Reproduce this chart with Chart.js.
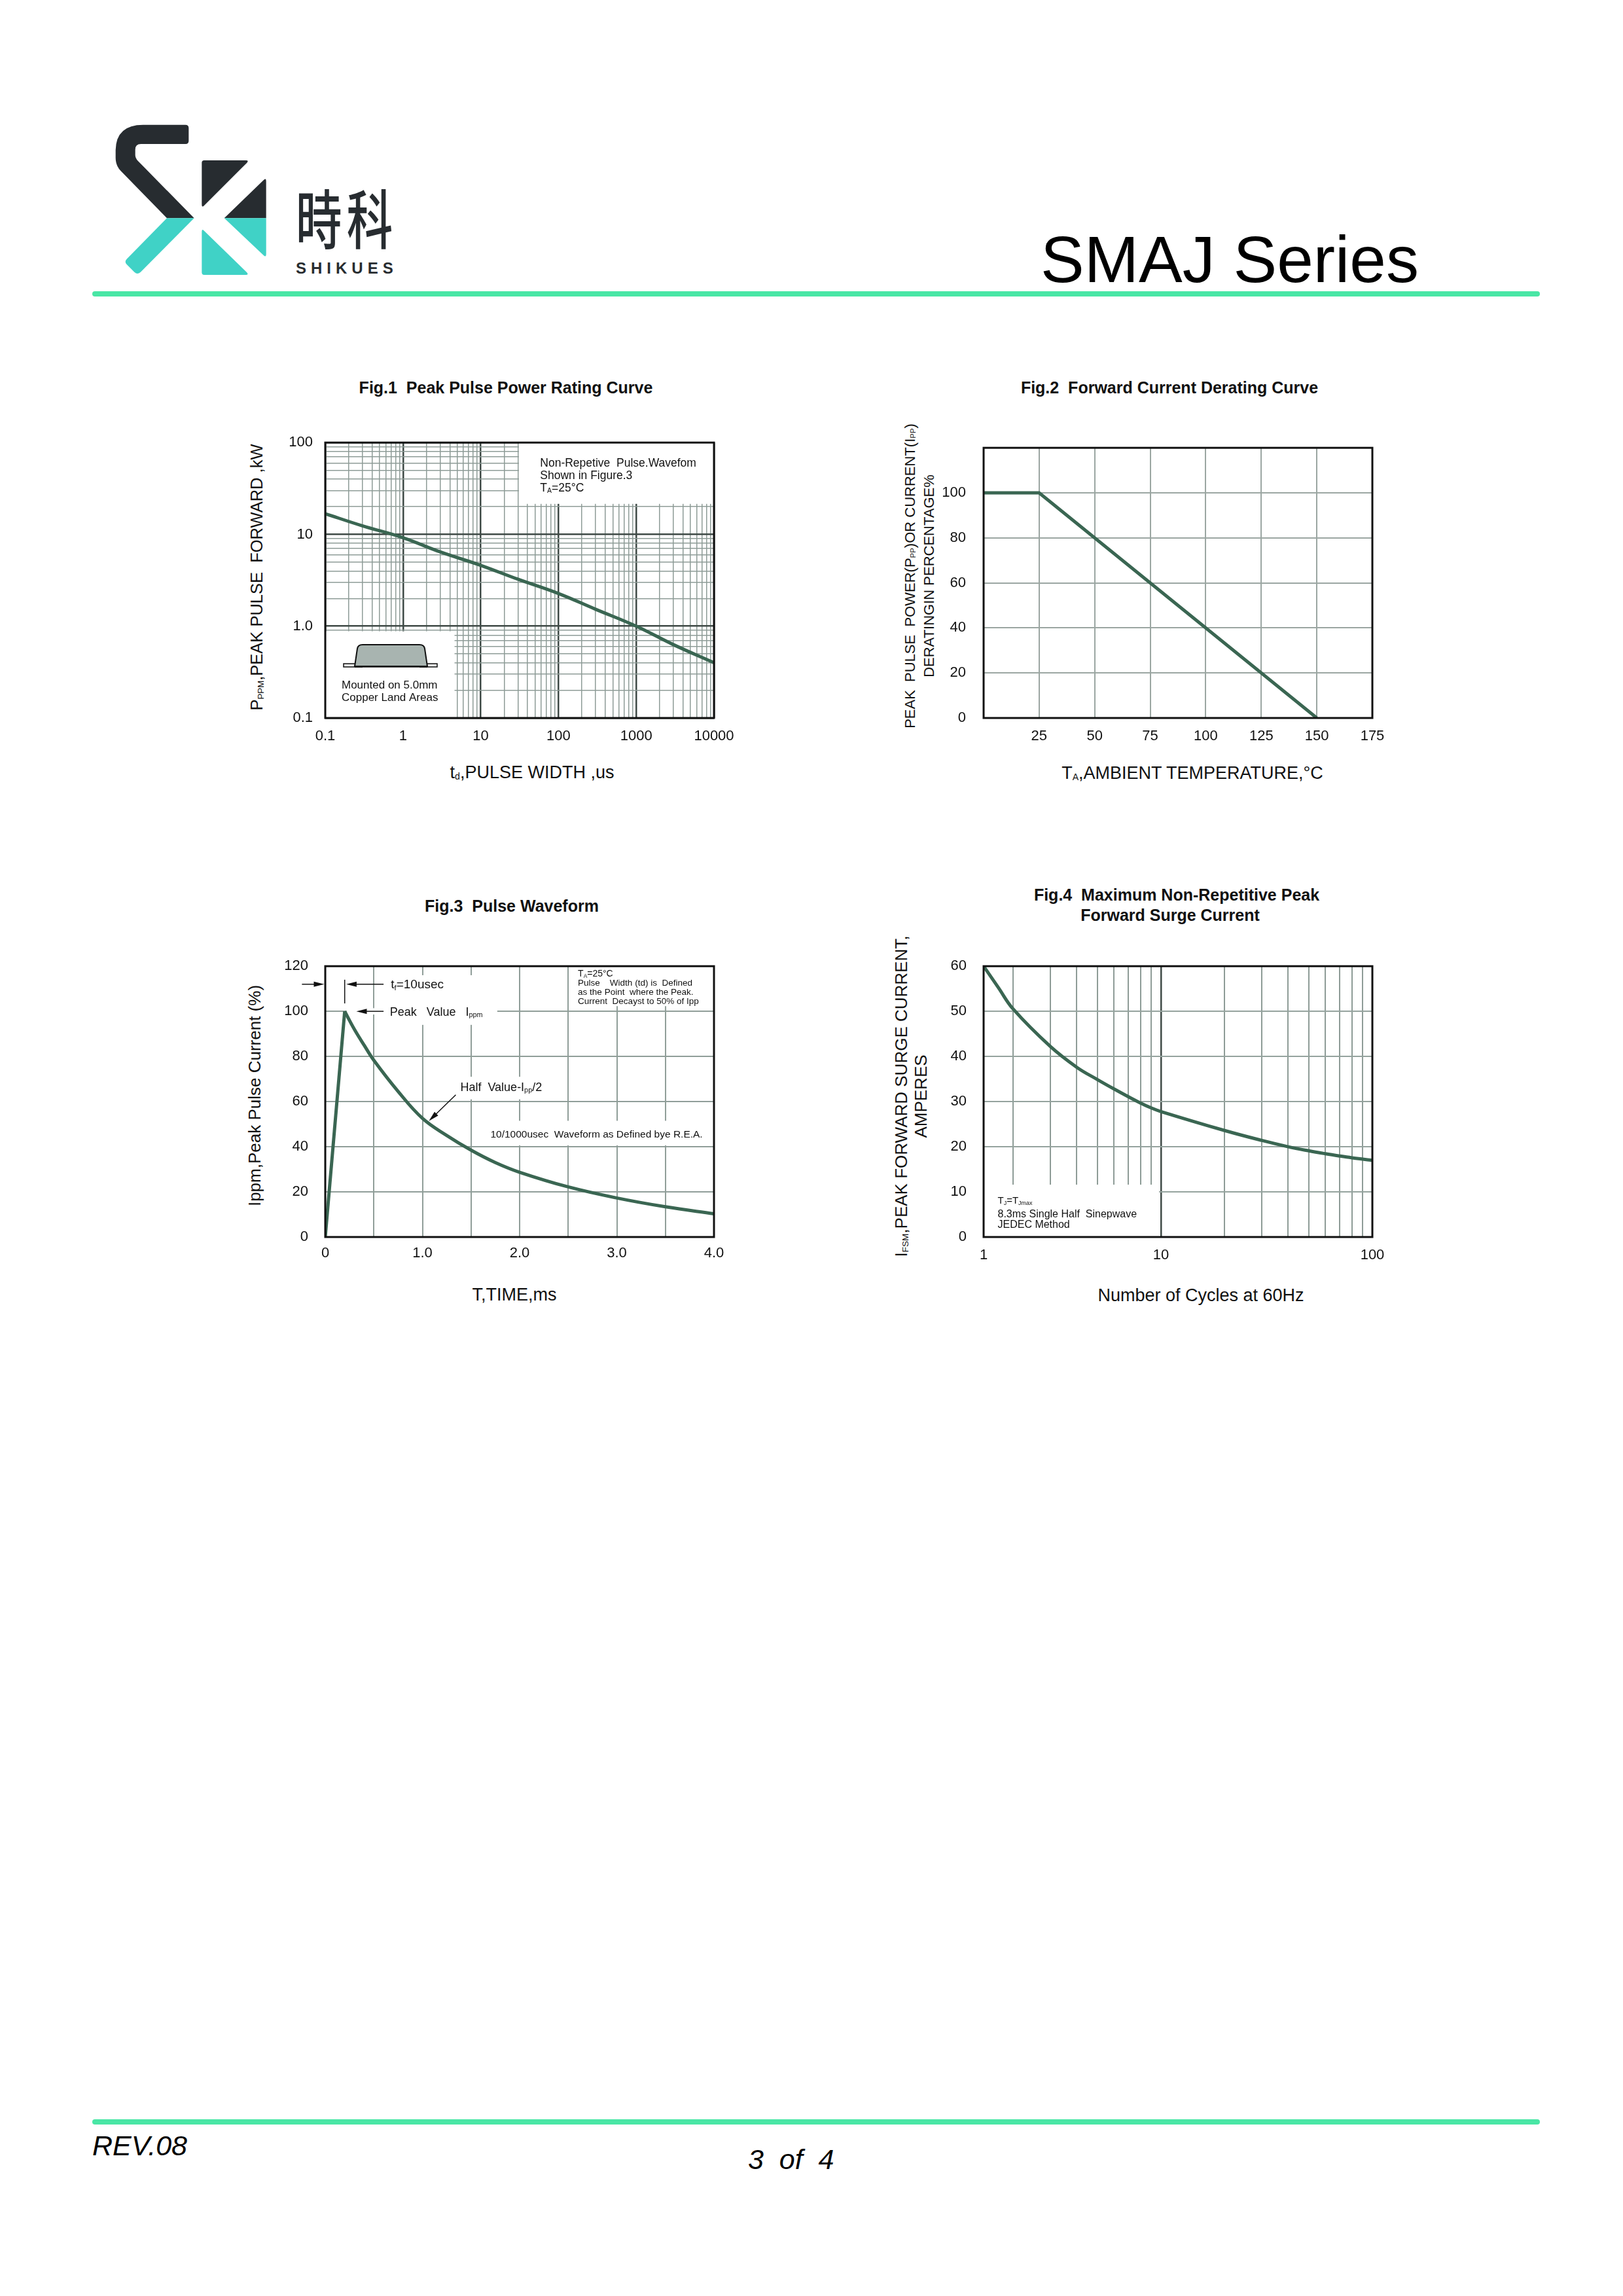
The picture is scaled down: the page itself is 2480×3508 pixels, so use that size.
<!DOCTYPE html>
<html>
<head>
<meta charset="utf-8">
<script src="https://cdn.jsdelivr.net/npm/chart.js@4.4.1/dist/chart.umd.min.js"></script>
<style>
body{margin:0;width:2480px;height:3508px;background:#fff;position:relative;overflow:hidden;font-family:"Liberation Sans",Arial,sans-serif;color:#111}
.abs{position:absolute;white-space:nowrap;line-height:1.15}
.c{transform:translate(-50%,-50%)}
.r{transform:translate(-50%,-50%) rotate(-90deg)}
.ttl{font-weight:bold;font-size:25px}
.rule{position:absolute;left:141px;width:2212px;height:8px;border-radius:4px;background:#49e6a5}
sub{font-size:0.52em;vertical-align:baseline;position:relative;top:0.12em}
canvas{position:absolute}
</style>
</head>
<body>

<svg class="abs" style="left:160px;top:170px" width="480" height="300" viewBox="0 0 1440 900">
  <path fill="#272c30" d="M370 62 Q385 62 385 77 L385 136 Q385 150 371 150 L166 150 Q140 150 140 176 L140 200 Q140 214 152 227 L410 490 L285 490 L74 274 Q50 249 50 214 L50 178 Q52 62 176 62 Z"/>
  <path fill="#40d2c6" d="M285 490 L410 490 L166 736 Q151 751 136 737 L101 702 Q89 690 101 677 Z"/>
  <path fill="#272c30" d="M456 225 L647 225 Q662 225 652 236 L456 432 Q445 443 445 428 L445 236 Q445 225 456 225 Z"/>
  <path fill="#40d2c6" d="M445 552 Q445 537 456 548 L651 738 Q662 750 647 750 L456 750 Q445 750 445 739 Z"/>
  <path fill="#272c30" d="M740 320 Q740 304 728 316 L548 490 L740 490 Z"/>
  <path fill="#40d2c6" d="M548 490 L740 490 L740 656 Q740 671 728 660 Z"/>
</svg>
<div class="abs" style="left:452px;top:280px;font-family:'Noto Sans CJK SC';font-weight:500;font-size:98px;line-height:1;letter-spacing:10px;color:#272c30;transform:scaleX(0.72);transform-origin:left top">時科</div>
<div class="abs" style="left:452px;top:398px;font-weight:bold;font-size:24px;line-height:1;letter-spacing:7px;color:#272c30">SHIKUES</div>
<div class="abs" style="left:1590px;top:346px;font-size:100px;line-height:1;color:#000">SMAJ Series</div>
<div class="rule" style="top:445px"></div>

<div class="abs c ttl" style="left:773px;top:592px">Fig.1&nbsp; Peak Pulse Power Rating Curve</div>
<div class="abs c ttl" style="left:1787px;top:592px">Fig.2&nbsp; Forward Current Derating Curve</div>
<div class="abs c ttl" style="left:782px;top:1384px">Fig.3&nbsp; Pulse Waveform</div>
<div class="abs c ttl" style="left:1798px;top:1367px">Fig.4&nbsp; Maximum Non-Repetitive Peak</div>
<div class="abs c ttl" style="left:1788px;top:1398px">Forward Surge Current</div>

<div class="abs r" style="left:393px;top:882px;font-size:25.5px">P<sub>PPM</sub>,PEAK PULSE&nbsp; FORWARD ,kW</div>
<div class="abs c" style="left:813px;top:1181px;font-size:27px">t<sub>d</sub>,PULSE WIDTH ,us</div>
<div class="abs r" style="left:1391px;top:880px;font-size:22px">PEAK&nbsp; PULSE&nbsp; POWER(P<sub>PP</sub>)OR CURRENT(I<sub>PP</sub>)</div>
<div class="abs r" style="left:1420px;top:880px;font-size:22px">DERATINGIN PERCENTAGE%</div>
<div class="abs c" style="left:1822px;top:1182px;font-size:27px">T<sub>A</sub>,AMBIENT TEMPERATURE,°C</div>
<div class="abs r" style="left:390px;top:1674px;font-size:26px">Ippm,Peak Pulse Current (%)</div>
<div class="abs c" style="left:786px;top:1979px;font-size:27px">T,TIME,ms</div>
<div class="abs r" style="left:1378px;top:1675px;font-size:26px">I<sub>FSM</sub>,PEAK FORWARD SURGE CURRENT,</div>
<div class="abs r" style="left:1408px;top:1675px;font-size:26px">AMPERES</div>
<div class="abs c" style="left:1835px;top:1980px;font-size:27px">Number of Cycles at 60Hz</div>

<canvas id="fig1"></canvas>
<canvas id="fig2"></canvas>
<canvas id="fig3"></canvas>
<canvas id="fig4"></canvas>

<div class="rule" style="top:3238px"></div>
<div class="abs" style="left:141px;top:3257px;font-size:43px;line-height:1;font-style:italic;color:#000">REV.08</div>
<div class="abs" style="left:1143px;top:3278px;font-size:43px;line-height:1;font-style:italic;color:#000">3&nbsp; of&nbsp; 4</div>

<script>
// Fig.1 peak pulse power vs pulse width (log/log)
const pulseWidth = [0.1, 0.3, 1, 3, 10, 30, 100, 300, 1000, 3000, 10000]
const peakPower = [16.8, 12.4, 9.2, 6.45, 4.6, 3.25, 2.27, 1.53, 1.0, 0.63, 0.40]
const fig1XTicks = [0.1, 1, 10, 100, 1000, 10000]
const fig1XLabels = ['0.1', '1', '10', '100', '1000', '10000']
const fig1YTicks = [0.1, 1, 10, 100]
const fig1YLabels = ['0.1', '1.0', '10', '100']

// Fig.2 derating
const ambientTemp = [0, 25, 150]
const deratePct = [100, 100, 0]
const fig2XLabels = ['', '25', '50', '75', '100', '125', '150', '175']
const fig2YLabels = ['0', '20', '40', '60', '80', '100', '']

// Fig.3 pulse waveform: rise then decay
const riseTime = [0, 0.2]
const riseCurrent = [0, 100]
const decayTime = [0.2, 0.3, 0.4, 0.5, 0.75, 1.0, 1.25, 1.5, 1.75, 2.0, 2.5, 3.0, 3.5, 4.0]
const decayCurrent = [100, 92, 85, 78.3, 64.5, 52.6, 45, 38.5, 33, 28.7, 22.2, 17.3, 13.4, 10.3]
const fig3XLabels = ['0', '', '1.0', '', '2.0', '', '3.0', '', '4.0']
const fig3YLabels = ['0', '20', '40', '60', '80', '100', '120']

// Fig.4 surge current vs cycles. the drawn axis starts a bit right of 1 (grid is true log from 2 on)
const cycles = [1.45, 1.7, 2, 3, 4, 5, 6, 7, 8, 9, 10, 20, 30, 40, 50, 60, 70, 80, 90, 100]
const surgeCurrent = [60, 55.3, 50.5, 42.2, 37.6, 34.9, 32.8, 31.1, 29.7, 28.6, 27.8, 23.6, 21.4, 20.0, 19.1, 18.45, 17.95, 17.55, 17.25, 17.0]
const fig4XTicks = [1.45, 10, 100]
const fig4XLabels = ['1', '10', '100']
const fig4YLabels = ['0', '10', '20', '30', '40', '50', '60']

const curveColor = '#3a6652'
const tickFont = {family: 'Liberation Sans', size: 22}
const FONT = '"Liberation Sans"'

function logGrid(min, max) {
  var out = []
  for (var e = Math.floor(Math.log10(min)); e <= Math.ceil(Math.log10(max)); e++) {
    for (var m = 1; m < 10; m++) {
      var v = +(m * Math.pow(10, e)).toPrecision(6)
      if (v >= min * 0.999 && v <= max * 1.001) out.push(v)
    }
  }
  return out
}

function pts(xs, ys) {
  return xs.map((x, i) => ({x: x, y: ys[i]}))
}

// text with subscript parts ('_xx')
function runs(ctx, parts, x, y, size) {
  var cx = x
  parts.forEach(p => {
    var sub = p.charAt(0) === '_'
    var s = sub ? p.slice(1) : p
    ctx.font = (sub ? size * 0.6 : size) + 'px ' + FONT
    ctx.fillText(s, cx, sub ? y + size * 0.12 : y)
    cx += ctx.measureText(s).width
  })
}

function arrow(ctx, x1, y1, x2, y2) {
  var a = Math.atan2(y2 - y1, x2 - x1), len = 16, w = 4
  ctx.beginPath()
  ctx.moveTo(x1, y1)
  ctx.lineTo(x2 - Math.cos(a) * len * 0.7, y2 - Math.sin(a) * len * 0.7)
  ctx.stroke()
  ctx.beginPath()
  ctx.moveTo(x2, y2)
  ctx.lineTo(x2 - len * Math.cos(a) + w * Math.sin(a), y2 - len * Math.sin(a) - w * Math.cos(a))
  ctx.lineTo(x2 - len * Math.cos(a) - w * Math.sin(a), y2 - len * Math.sin(a) + w * Math.cos(a))
  ctx.closePath()
  ctx.fill()
}

// white boxes behind notes (under the curve), frame + notes on top
function overlay(boxes, notes) {
  return {
    id: 'overlay',
    beforeDatasetsDraw(chart) {
      var ctx = chart.ctx, a = chart.chartArea, x = chart.scales.x, y = chart.scales.y
      ctx.save()
      ctx.beginPath()
      ctx.rect(a.left, a.top, a.right - a.left, a.bottom - a.top)
      ctx.clip()
      ctx.fillStyle = '#fff'
      boxes.forEach(b => {
        var x0 = x.getPixelForValue(b[0]), x1 = x.getPixelForValue(b[1])
        var y0 = y.getPixelForValue(b[2]), y1 = y.getPixelForValue(b[3])
        ctx.fillRect(Math.min(x0, x1), Math.min(y0, y1), Math.abs(x1 - x0), Math.abs(y1 - y0))
      })
      ctx.restore()
    },
    afterDatasetsDraw(chart) {
      var ctx = chart.ctx, a = chart.chartArea
      ctx.save()
      ctx.strokeStyle = '#111'
      ctx.lineWidth = 3
      ctx.strokeRect(a.left, a.top, a.right - a.left, a.bottom - a.top)
      ctx.restore()
      if (notes) {
        ctx.save()
        ctx.fillStyle = '#111'
        ctx.strokeStyle = '#111'
        ctx.lineWidth = 1.5
        ctx.textBaseline = 'alphabetic'
        notes(chart, ctx, chart.scales.x, chart.scales.y, a)
        ctx.restore()
      }
    }
  }
}

function makeChart(id, area, yPad, xPad, scales, datasets, plugin) {
  var cv = document.getElementById(id)
  var L = 110, T = 20, R = 50, B = 55
  cv.width = area.r - area.l + L + R
  cv.height = area.b - area.t + T + B
  cv.style.left = (area.l - L) + 'px'
  cv.style.top = (area.t - T) + 'px'
  cv.style.width = cv.width + 'px'
  cv.style.height = cv.height + 'px'
  scales.x.afterFit = s => { s.height = B }
  scales.y.afterFit = s => { s.width = L }
  scales.x.border = {display: false}
  scales.y.border = {display: false}
  scales.x.ticks = Object.assign({font: tickFont, color: '#111', padding: xPad, autoSkip: false, maxRotation: 0}, scales.x.ticks)
  scales.y.ticks = Object.assign({font: tickFont, color: '#111', padding: yPad, autoSkip: false}, scales.y.ticks)
  return new Chart(cv, {
    type: 'line',
    data: {datasets: datasets},
    options: {
      responsive: false,
      animation: false,
      devicePixelRatio: 1,
      events: [],
      layout: {padding: {left: 0, top: T, right: R, bottom: 0}},
      plugins: {legend: {display: false}, tooltip: {enabled: false}},
      elements: {point: {radius: 0}},
      scales: scales
    },
    plugins: [plugin]
  })
}

function line(data, smooth) {
  return {
    data: data,
    borderColor: curveColor,
    borderWidth: 5,
    pointRadius: 0,
    fill: false,
    tension: smooth ? 0.4 : 0
  }
}

// ---------- Fig.1 ----------
var logColor = major => ctx => major(ctx.tick.value) ? '#3f4a46' : '#8e9c97'
var isDecade = v => Math.abs(Math.log10(v) - Math.round(Math.log10(v))) < 1e-6

makeChart('fig1', {l: 497, t: 664, r: 1091, b: 1097}, 19, 15, {
  x: {
    type: 'logarithmic', min: 0.1, max: 10000,
    afterBuildTicks: s => { s.ticks = logGrid(0.1, 10000).map(v => ({value: v})) },
    ticks: {callback: v => { var i = fig1XTicks.indexOf(v); return i >= 0 ? fig1XLabels[i] : '' }},
    grid: {color: logColor(isDecade), lineWidth: c => isDecade(c.tick.value) ? 2.5 : 1.5, drawTicks: false}
  },
  y: {
    type: 'logarithmic', min: 0.1, max: 100,
    afterBuildTicks: s => { s.ticks = logGrid(0.1, 100).map(v => ({value: v})) },
    ticks: {callback: v => { var i = fig1YTicks.indexOf(v); return i >= 0 ? fig1YLabels[i] : '' }},
    grid: {color: logColor(isDecade), lineWidth: c => isDecade(c.tick.value) ? 2.5 : 1.5, drawTicks: false}
  }
}, [line(pts(pulseWidth, peakPower), true)],
overlay([[31, 1e6, 21.5, 1e4], [0.01, 4.6, 0.001, 0.88]], (chart, ctx, x, y, a) => {
  var tx = x.getPixelForValue(58)
  runs(ctx, ['Non-Repetive  Pulse.Wavefom'], tx, y.getPixelForValue(54.8), 17.5)
  runs(ctx, ['Shown in Figure.3'], tx, y.getPixelForValue(40.3), 17.5)
  runs(ctx, ['T', '_A', '=25°C'], tx, y.getPixelForValue(29.1), 17.5)
  // package sketch
  var L = a.left, B = a.bottom
  ctx.fillStyle = '#e4e6e5'
  ctx.fillRect(L + 28, B - 83, 143, 5)
  ctx.strokeRect(L + 28, B - 83, 143, 5)
  ctx.beginPath()
  ctx.moveTo(L + 45, B - 79)
  ctx.lineTo(L + 49, B - 106)
  ctx.quadraticCurveTo(L + 50, B - 112, L + 57, B - 112)
  ctx.lineTo(L + 144, B - 112)
  ctx.quadraticCurveTo(L + 151, B - 112, L + 152, B - 106)
  ctx.lineTo(L + 156, B - 79)
  ctx.closePath()
  ctx.fillStyle = '#a8b4b0'
  ctx.fill()
  ctx.lineWidth = 2
  ctx.stroke()
  ctx.fillStyle = '#111'
  ctx.fillRect(L + 45, B - 80, 12, 3)
  ctx.fillRect(L + 144, B - 80, 12, 3)
  runs(ctx, ['Mounted on 5.0mm'], L + 25, B - 45, 17)
  runs(ctx, ['Copper Land Areas'], L + 25, B - 26, 17)
}))

// ---------- Fig.2 ----------
makeChart('fig2', {l: 1503, t: 664, r: 2097, b: 1097}, 27, 15, {
  x: {
    type: 'linear', min: 0, max: 175,
    ticks: {stepSize: 25, callback: (v, i) => fig2XLabels[i]},
    grid: {color: '#9ba6a2', lineWidth: 2, drawTicks: false}
  },
  y: {
    type: 'linear', min: 0, max: 120,
    ticks: {stepSize: 20, callback: (v, i) => fig2YLabels[i]},
    grid: {color: '#9ba6a2', lineWidth: 2, drawTicks: false}
  }
}, [line(pts(ambientTemp, deratePct), false)], overlay([], null))

// ---------- Fig.3 ----------
makeChart('fig3', {l: 497, t: 1457, r: 1091, b: 1890}, 26, 12, {
  x: {
    type: 'linear', min: 0, max: 4,
    ticks: {stepSize: 0.5, callback: (v, i) => fig3XLabels[i]},
    grid: {color: '#909e99', lineWidth: 2, drawTicks: false}
  },
  y: {
    type: 'linear', min: 0, max: 120,
    ticks: {stepSize: 20, callback: (v, i) => fig3YLabels[i]},
    grid: {color: '#909e99', lineWidth: 2, drawTicks: false}
  }
}, [line(pts(riseTime, riseCurrent), false), line(pts(decayTime, decayCurrent), true)],
overlay([[0.22, 1.77, 98.6, 101.4], [0.58, 1.76, 94, 116], [2.55, 5, 102.3, 125], [1.37, 2.26, 61, 71], [1.66, 5, 40.6, 51.5]],
(chart, ctx, x, y) => {
  var px = v => x.getPixelForValue(v), py = v => y.getPixelForValue(v)
  arrow(ctx, px(-0.24), py(112), px(-0.01), py(112))
  arrow(ctx, px(0.6), py(112), px(0.215), py(112))
  ctx.beginPath()
  ctx.moveTo(px(0.2), py(114))
  ctx.lineTo(px(0.2), py(103.5))
  ctx.stroke()
  runs(ctx, ['t', '_f', '=10usec'], px(0.675), py(110.1), 19)
  arrow(ctx, px(0.6), py(100), px(0.32), py(100))
  runs(ctx, ['Peak   Value   I', '_ppm'], px(0.665), py(98.1), 18)
  runs(ctx, ['T', '_A', '=25°C'], px(2.6), py(115.3), 14)
  runs(ctx, ['Pulse    Width (td) is  Defined'], px(2.6), py(111.3), 13.5)
  runs(ctx, ['as the Point  where the Peak.'], px(2.6), py(107.3), 13.5)
  runs(ctx, ['Current  Decayst to 50% of Ipp'], px(2.6), py(103.3), 13.5)
  runs(ctx, ['Half  Value-I', '_pp', '/2'], px(1.39), py(64.8), 18)
  arrow(ctx, px(1.343), py(63), px(1.066), py(51.4))
  runs(ctx, ['10/1000usec  Waveform as Defined bye R.E.A.'], px(1.7), py(44), 15.5)
}))

// ---------- Fig.4 ----------
var isTen = v => Math.abs(v - 10) < 1e-6
makeChart('fig4', {l: 1503, t: 1457, r: 2097, b: 1890}, 26, 15, {
  x: {
    type: 'logarithmic', min: fig4XTicks[0], max: 100,
    afterBuildTicks: s => { s.ticks = [fig4XTicks[0]].concat(logGrid(2, 100)).map(v => ({value: v})) },
    ticks: {callback: v => { var i = fig4XTicks.indexOf(v); return i >= 0 ? fig4XLabels[i] : '' }},
    grid: {color: logColor(isTen), lineWidth: c => isTen(c.tick.value) ? 2.5 : 2, drawTicks: false}
  },
  y: {
    type: 'linear', min: 0, max: 60,
    ticks: {stepSize: 10, callback: (v, i) => fig4YLabels[i]},
    grid: {color: '#95a39e', lineWidth: 2, drawTicks: false}
  }
}, [line(pts(cycles, surgeCurrent), true)],
overlay([[1, 9.8, -5, 11.6]], (chart, ctx, x, y) => {
  var tx = x.getPixelForValue(1.69)
  runs(ctx, ['T', '_J', '=T', '_Jmax'], tx, y.getPixelForValue(7.4), 15)
  runs(ctx, ['8.3ms Single Half  Sinepwave'], tx, y.getPixelForValue(4.3), 16)
  runs(ctx, ['JEDEC Method'], tx, y.getPixelForValue(2.1), 16)
}))
</script>
</body>
</html>
